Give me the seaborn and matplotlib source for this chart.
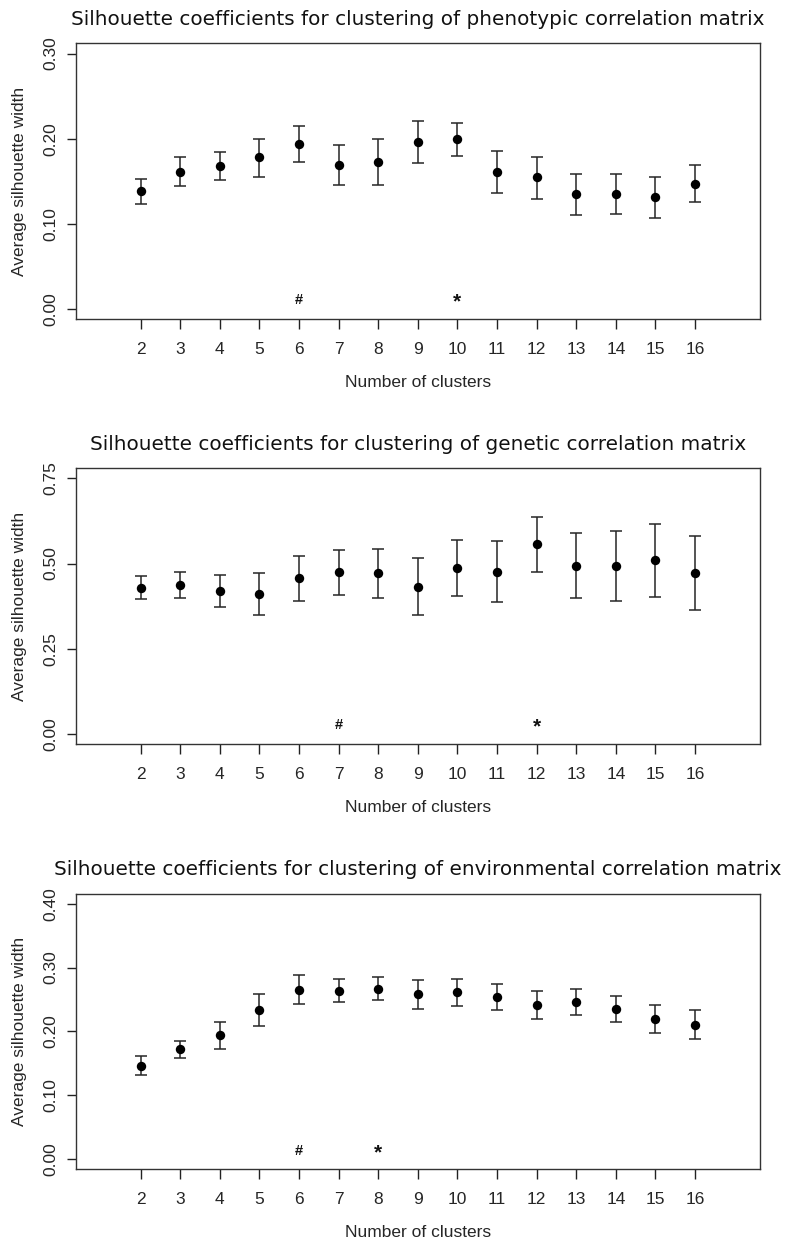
import numpy as np
import matplotlib
matplotlib.use("Agg")
import matplotlib.pyplot as plt
import seaborn as sns

# Number of clusters tested
clusters = list(range(2, 17))

# Phenotypic correlation matrix: mean silhouette width and interval bounds
pheno_mean = [0.138, 0.161, 0.168, 0.178, 0.194, 0.169, 0.173, 0.196, 0.199, 0.161, 0.155, 0.135, 0.135, 0.131, 0.147]
pheno_low = [0.123, 0.144, 0.151, 0.155, 0.172, 0.146, 0.146, 0.171, 0.180, 0.136, 0.129, 0.110, 0.112, 0.107, 0.125]
pheno_high = [0.153, 0.178, 0.184, 0.200, 0.215, 0.192, 0.200, 0.221, 0.218, 0.186, 0.179, 0.159, 0.159, 0.155, 0.169]

# Genetic correlation matrix
gen_mean = [0.429, 0.436, 0.420, 0.410, 0.457, 0.474, 0.471, 0.432, 0.487, 0.476, 0.557, 0.494, 0.493, 0.509, 0.473]
gen_low = [0.396, 0.399, 0.373, 0.348, 0.391, 0.409, 0.398, 0.348, 0.405, 0.386, 0.474, 0.398, 0.389, 0.401, 0.364]
gen_high = [0.464, 0.474, 0.466, 0.472, 0.523, 0.539, 0.542, 0.517, 0.568, 0.565, 0.638, 0.589, 0.595, 0.617, 0.581]

# Environmental correlation matrix
env_mean = [0.146, 0.172, 0.194, 0.233, 0.265, 0.264, 0.267, 0.258, 0.261, 0.254, 0.242, 0.246, 0.235, 0.219, 0.210]
env_low = [0.132, 0.159, 0.172, 0.209, 0.243, 0.246, 0.249, 0.235, 0.240, 0.233, 0.220, 0.225, 0.214, 0.197, 0.188]
env_high = [0.161, 0.185, 0.215, 0.258, 0.288, 0.282, 0.285, 0.281, 0.282, 0.275, 0.264, 0.266, 0.256, 0.241, 0.233]

titles = [
    "Silhouette coefficients for clustering of phenotypic correlation matrix",
    "Silhouette coefficients for clustering of genetic correlation matrix",
    "Silhouette coefficients for clustering of environmental correlation matrix",
]
ymax_list = [0.30, 0.75, 0.40]
ytick_list = [
    [0.00, 0.10, 0.20, 0.30],
    [0.00, 0.25, 0.50, 0.75],
    [0.00, 0.10, 0.20, 0.30, 0.40],
]
# cluster counts flagged with "#" and "*"
hash_k = [6, 7, 6]
star_k = [10, 12, 8]

sns.set_style("ticks")
plt.rcParams["font.family"] = ["Liberation Sans", "DejaVu Sans"]

fig = plt.figure(figsize=(7.86, 12.41), dpi=100)

bottoms = [0.7429, 0.4005, 0.0578]
series = [
    (pheno_mean, pheno_low, pheno_high),
    (gen_mean, gen_low, gen_high),
    (env_mean, env_low, env_high),
]

for i in range(3):
    ax = fig.add_axes([0.0963, bottoms[i], 0.8706, 0.2222])
    mean, low, high = (np.asarray(a) for a in series[i])
    x = np.asarray(clusters)

    ax.errorbar(x, mean, yerr=[mean - low, high - mean], fmt="none",
                ecolor="#262626", elinewidth=1.1, capsize=4.0, capthick=1.1, zorder=2)
    sns.scatterplot(x=x, y=mean, ax=ax, color="black", edgecolor="black",
                    s=46, linewidth=0, zorder=3, legend=False)

    ymax = ymax_list[i]
    ax.set_xlim(1 - 0.64, 17 + 0.64)
    ax.set_ylim(-0.04 * ymax, ymax * 1.04)
    ax.set_xticks(clusters)
    ax.set_xticklabels([str(k) for k in clusters])
    ax.set_yticks(ytick_list[i])
    ax.set_yticklabels([f"{v:.2f}" for v in ytick_list[i]], rotation=90, va="center")

    mark_y = ymax / 30
    ax.text(hash_k[i], mark_y, "#", ha="center", va="center", fontsize=10.5,
            fontweight="bold", color="#111111")
    ax.text(star_k[i], mark_y, "*", ha="center", va="center_baseline", fontsize=15,
            fontweight="bold", color="#111111")

    for sp in ax.spines.values():
        sp.set_visible(True)
        sp.set_color("#333333")
        sp.set_linewidth(1.0)
    ax.tick_params(axis="x", length=7.5, width=1.0, color="#222222", labelsize=12.5, pad=9)
    ax.tick_params(axis="y", length=6.5, width=1.0, color="#222222", labelsize=12.5, pad=6)

    ax.set_xlabel("Number of clusters", fontsize=12.5, labelpad=13)
    ax.set_ylabel("Average silhouette width", fontsize=12.5, labelpad=12)
    ax.set_title(titles[i], fontsize=14.4, family=["DejaVu Sans"], pad=13, color="#111111")

fig.savefig("out.png", dpi=100)
